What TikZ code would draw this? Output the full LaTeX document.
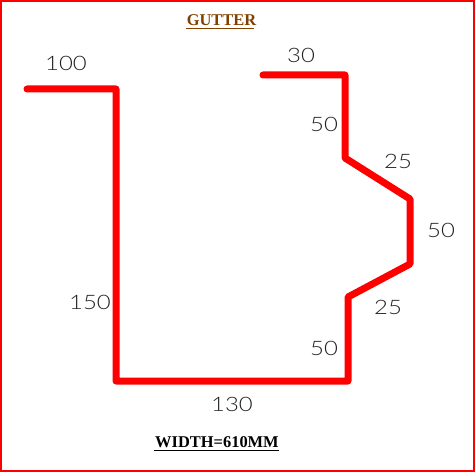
\documentclass[tikz,border=0pt]{standalone}
\usepackage{fontspec}
\setmainfont{Liberation Serif}
\newfontfamily\dimfont[FakeStretch=1.2]{Lato Light}
\definecolor{titlebrown}{HTML}{804000}
\definecolor{dimgrey}{HTML}{202020}
\tikzset{
  profile/.style={draw=red,line width=7bp,line cap=round,line join=round},
  frameline/.style={draw=red,line width=2bp},
  dimlabel/.style={text=dimgrey,font=\dimfont\fontsize{20}{20}\selectfont,inner sep=0pt,anchor=center},
  titletext/.style={font=\bfseries\fontsize{16.5}{17}\selectfont,inner sep=0pt,anchor=center}
}
\begin{document}
\begin{tikzpicture}[x=1bp,y=-1bp]
\useasboundingbox (0,0) rectangle (475,472);
\fill[white] (0,0) rectangle (475,472);
\draw[frameline] (1,1) rectangle (474,471);
\draw[profile] (27,89) -- (116,89) -- (116,381) -- (348,381) -- (348,297) -- (410,264) -- (410,199) -- (345,158) -- (345,75) -- (263,75);
\node[titletext,text=titlebrown] (title) at (221.5,20.5) {GUTTER};
\draw[titlebrown,line width=1bp] (186,28.5) -- (254,28.5);
\node[titletext,text=black] (width) at (217,442.5) {WIDTH=610MM};
\draw[black,line width=1bp] (154,450.5) -- (279,450.5);
\node[dimlabel] (a) at (66,63.5) {100};
\node[dimlabel] (b) at (301,55.5) {30};
\node[dimlabel] (c) at (324,124.5) {50};
\node[dimlabel] (d) at (398,161.5) {25};
\node[dimlabel] (e) at (441,230.5) {50};
\node[dimlabel] (f) at (388,307.5) {25};
\node[dimlabel] (g) at (324,348.5) {50};
\node[dimlabel] (h) at (90,302.5) {150};
\node[dimlabel] (i) at (232,404.5) {130};
\end{tikzpicture}
\end{document}
